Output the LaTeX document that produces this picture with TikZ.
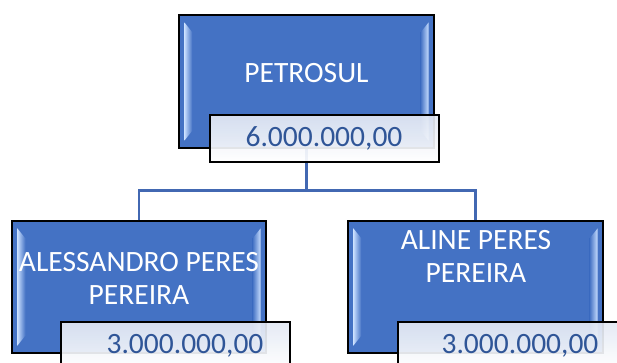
\documentclass[tikz,border=0pt]{standalone}
\usepackage{fontspec}
\setmainfont{Carlito}
\usetikzlibrary{shadings}
\definecolor{boxblue}{RGB}{68,114,196}
\definecolor{bevellight}{RGB}{200,222,255}
\definecolor{valblue}{RGB}{47,85,151}
\definecolor{linkblue}{RGB}{66,104,178}
\definecolor{labtop}{RGB}{226,232,243}
\tikzset{
  namebox/.style={draw=black, line width=1.3pt, fill=boxblue, inner sep=0pt},
  valbox/.style={draw=black, line width=1.3pt, top color=labtop, bottom color=white, fill opacity=0.92, inner sep=0pt, minimum width=229pt, minimum height=47pt},
  nametext/.style={text=white, font=\fontsize{29.5}{33}\selectfont, align=center, inner sep=0pt},
  valtext/.style={text=valblue, font=\fontsize{29.5}{33}\selectfont, inner sep=0pt},
  link/.style={draw=linkblue, line width=2.4pt},
}
\newcommand{\bevelit}[1]{%
  \path[left color=bevellight, right color=boxblue]
    ([xshift=6pt,yshift=-8pt]#1.north west) -- ([xshift=14pt,yshift=-18pt]#1.north west)
    -- ([xshift=14pt,yshift=18pt]#1.south west) -- ([xshift=6pt,yshift=8pt]#1.south west) -- cycle;
  \path[right color=bevellight, left color=boxblue]
    ([xshift=-6pt,yshift=-8pt]#1.north east) -- ([xshift=-14pt,yshift=-18pt]#1.north east)
    -- ([xshift=-14pt,yshift=18pt]#1.south east) -- ([xshift=-6pt,yshift=8pt]#1.south east) -- cycle;
}
\begin{document}
\begin{tikzpicture}[x=1pt,y=-1pt]
\useasboundingbox (0,0) rectangle (617,363);
\clip (0,0) rectangle (617,363);
% boxes
\node[namebox, minimum width=255pt, minimum height=133pt] (p) at (306.5,81.5) {};
\node[namebox, minimum width=254pt, minimum height=132pt] (a) at (139,287) {};
\node[namebox, minimum width=255pt, minimum height=132pt] (b) at (475.5,287) {};
% connectors
\coordinate (j) at (306.5,190.5);
\draw[link] (p.south) -- (j);
\draw[link] (a.north) |- (j) -| (b.north);
\node[namebox, minimum width=255pt, minimum height=133pt] (p2) at (p) {};
\bevelit{p2}
\bevelit{a}
\bevelit{b}
% names
\node[nametext] (pt) at (306.5,73) {PETROSUL};
\node[nametext] (at) at (139,278) {ALESSANDRO PERES\\PEREIRA};
\node[nametext] (bt) at (476,256) {ALINE PERES\\PEREIRA};
% values
\node[valbox] (pv) at (324.5,138.5) {};
\node[valtext] (pvt) at (324,138.5) {6.000.000,00};
\node[valbox] (av) at (175.5,345.5) {};
\node[valtext] (avt) at (185,345.5) {3.000.000,00};
\node[valbox] (bv) at (512.5,345.5) {};
\node[valtext] (bvt) at (520,345.5) {3.000.000,00};
\end{tikzpicture}
\end{document}
